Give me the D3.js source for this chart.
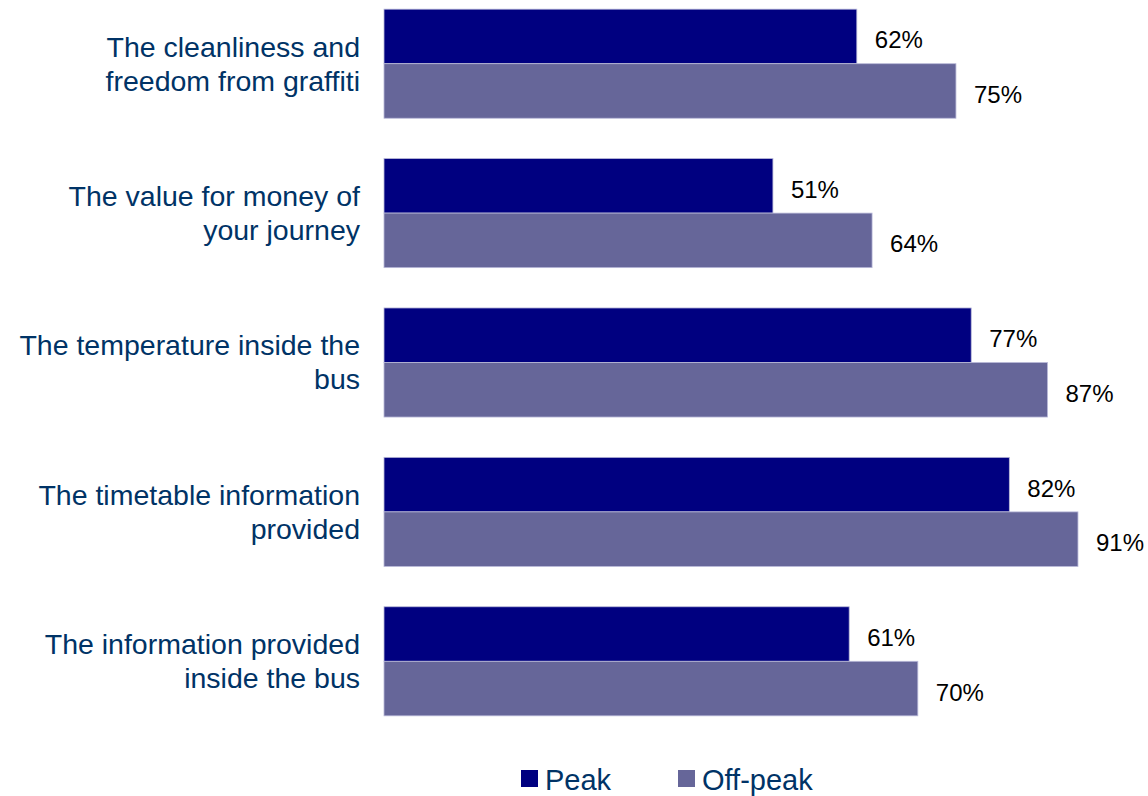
<!DOCTYPE html>
<html><head><meta charset="utf-8">
<script src="https://cdn.jsdelivr.net/npm/d3@7"></script>
<style>body{margin:0;background:#fff;font-family:"Liberation Sans",Arial,sans-serif;}</style>
</head><body><svg id="c" width="1148" height="796"></svg>
<script>
const categories = [
  ["The cleanliness and", "freedom from graffiti"],
  ["The value for money of", "your journey"],
  ["The temperature inside the", "bus"],
  ["The timetable information", "provided"],
  ["The information provided", "inside the bus"]
];
const seriesNames = ["Peak", "Off-peak"];
const peak = [62, 51, 77, 82, 61];
const offPeak = [75, 64, 87, 91, 70];
const colors = ["#000080", "#666699"];

const svg = d3.select("#c");
const x = d3.scaleLinear().domain([0, 100]).range([384, 1146.6]);
const y0 = d3.scaleBand().domain(d3.range(categories.length)).range([-11, 736]).paddingInner(0.27).paddingOuter(0.135);
const y1 = d3.scaleBand().domain([0, 1]).range([0, y0.bandwidth()]);

const data = categories.map((c, i) => ({i, vals: [peak[i], offPeak[i]]}));
const g = svg.selectAll("g.grp").data(data).join("g").attr("transform", d => `translate(0,${y0(d.i)})`);

g.selectAll("rect").data(d => d.vals.map((v, s) => ({v, s}))).join("rect")
  .attr("x", x(0)).attr("y", d => y1(d.s)).attr("width", d => x(d.v) - x(0))
  .attr("height", y1.bandwidth()).attr("fill", d => colors[d.s])
  .attr("stroke", "#b8b8d8").attr("stroke-width", 0.8);

g.selectAll("text.val").data(d => d.vals.map((v, s) => ({v, s}))).join("text")
  .attr("class", "val").attr("x", d => x(d.v) + 18).attr("y", d => y1(d.s) + y1.bandwidth() / 2 + 12)
  .attr("font-size", 24).attr("fill", "#000").text(d => d.v + "%");

g.append("text").attr("text-anchor", "end").attr("fill", "#003366").attr("font-size", 28.5)
  .selectAll("tspan").data(d => categories[d.i]).join("tspan")
  .attr("x", 360).attr("y", (d, k) => y0.bandwidth() / 2 - 17 + 10 + k * 34).text(d => d);

const leg = svg.append("g");
const lx = [521, 678];
seriesNames.forEach((n, s) => {
  leg.append("rect").attr("x", lx[s]).attr("y", 770).attr("width", 17).attr("height", 17).attr("fill", colors[s]);
  leg.append("text").attr("x", lx[s] + 24).attr("y", 790).attr("font-size", 29).attr("fill", "#003366").text(n);
});
</script></body></html>
